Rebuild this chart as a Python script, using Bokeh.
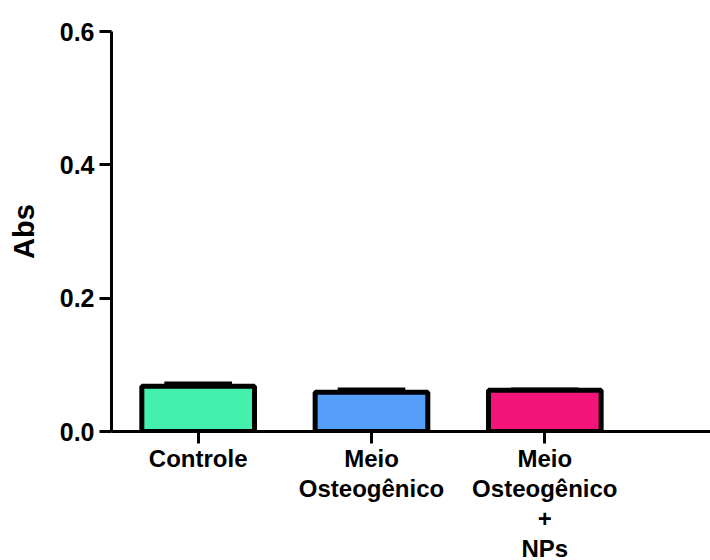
from bokeh.plotting import figure
from bokeh.layouts import column
from bokeh.models import FixedTicker, ColumnDataSource, Range1d
from bokeh.core.properties import value
from bokeh.embed import file_html
from bokeh.resources import INLINE

# Group names, mean absorbance and standard error (upper bar only)
groups = ["Controle", "Meio\nOsteogênico", "Meio\nOsteogênico\n+\nNPs"]
positions = [0.5, 1.5, 2.5]
means = [0.068, 0.059, 0.062]
sems = [0.004, 0.004, 0.001]
colors = ["#45F0AE", "#559EF9", "#F5157A"]
y_ticks = [0.0, 0.2, 0.4, 0.6]

FONT = "Liberation Sans"
x_range = Range1d(0, 3.456)

p = figure(
    width=710, height=445,
    x_range=x_range, y_range=Range1d(0, 0.6),
    output_backend="svg", toolbar_location=None,
    min_border_left=111, min_border_right=0, min_border_top=31, min_border_bottom=14,
)
p.outline_line_color = None
p.xgrid.visible = False
p.ygrid.visible = False
p.background_fill_color = "white"
p.border_fill_color = "white"

src = ColumnDataSource(dict(
    x=positions, top=means, color=colors, name=groups,
    upper=[m + s for m, s in zip(means, sems)],
    cap_l=[x - 0.195 for x in positions],
    cap_r=[x + 0.195 for x in positions],
    label_y=[1] * len(positions),
))

# upper error whiskers drawn behind the bars
p.segment(x0="x", y0="top", x1="x", y1="upper", source=src, line_color="black", line_width=4)
p.segment(x0="cap_l", y0="upper", x1="cap_r", y1="upper", source=src, line_color="black", line_width=4)

p.vbar(x="x", top="top", bottom=0, width=0.65, source=src,
       fill_color="color", line_color="black", line_width=5)

# y axis
ya = p.yaxis[0]
ya.ticker = FixedTicker(ticks=y_ticks)
ya.major_label_overrides = {0.0: "0.0", 0.2: "0.2", 0.4: "0.4", 0.6: "0.6"}
ya.axis_line_width = 3
ya.major_tick_line_width = 3
ya.major_tick_out = 12
ya.major_tick_in = 0
ya.minor_tick_line_color = None
ya.major_label_text_font = FONT
ya.major_label_text_font_style = "bold"
ya.major_label_text_font_size = "25px"
ya.major_label_text_color = "black"
ya.major_label_standoff = 5
ya.axis_label = "Abs"
ya.axis_label_text_font = FONT
ya.axis_label_text_font_style = "bold"
ya.axis_label_text_font_size = "29px"
ya.axis_label_text_color = "black"
ya.axis_label_standoff = 17

# x axis: line and ticks only; group names go in the strip below
xa = p.xaxis[0]
xa.ticker = FixedTicker(ticks=positions)
xa.major_label_overrides = {x: "" for x in positions}
xa.major_label_text_color = None
xa.major_label_standoff = 0
xa.axis_line_width = 3
xa.major_tick_line_width = 3
xa.major_tick_out = 12
xa.major_tick_in = 0
xa.minor_tick_line_color = None

# strip under the axis holding the (multi-line) group names
q = figure(
    width=710, height=115,
    x_range=x_range, y_range=Range1d(-115, 0),
    output_backend="svg", toolbar_location=None,
    min_border_left=111, min_border_right=0, min_border_top=0, min_border_bottom=0,
)
q.axis.visible = False
q.grid.visible = False
q.outline_line_color = None
q.text(x="x", y="label_y", text="name", source=src,
       text_align="center", text_baseline="top",
       text_font=value(FONT), text_font_style="bold", text_font_size="24px",
       text_color="black", text_line_height=1.12)

layout = column(p, q, spacing=0)
open("out.html", "w").write(file_html(layout, INLINE))
